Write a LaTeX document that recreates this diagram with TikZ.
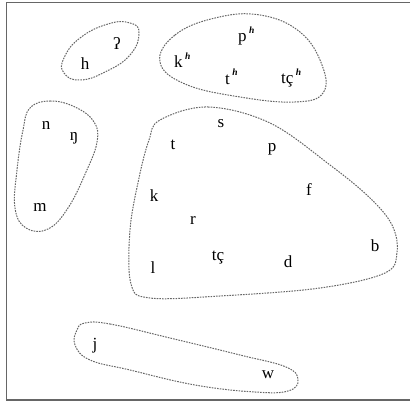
\documentclass[tikz,border=0pt]{standalone}
\usepackage{fontspec}
\setmainfont{Liberation Serif}
\begin{document}
\begin{tikzpicture}[x=1pt,y=-1pt,
  lett/.style={inner sep=0pt,font=\fontsize{17}{18}\selectfont},
  blob/.style={draw=black!60,line width=1pt,dash pattern=on 1.6pt off 1.1pt},
  frm/.style={draw=black!60,line width=1.4pt}]
\newcommand{\asp}{\kern2.5pt\raisebox{0.5em}{\fontsize{9.5}{10}\selectfont\itshape\bfseries h}}
\useasboundingbox (0,0) rectangle (410,403);
\draw[frm] (410,2.5) -- (6.5,2.5) -- (6.5,400) -- (410,400);
% letters
\node[lett] (h) at (85,64) {h};
\node[lett] (gs) at (117,43) {ʔ};
\node[lett,anchor=west] (kh) at (174,60) {k\asp};
\node[lett,anchor=west] (ph) at (238,36) {p\asp};
\node[lett,anchor=west] (th) at (225,77) {t\asp};
\node[lett,anchor=west] (tch) at (281,78) {tç\asp};
\node[lett] (n) at (46,125) {n};
\node[lett] (ng) at (74,138) {ŋ};
\node[lett] (m) at (40,207) {m};
\node[lett] (s) at (221,124) {s};
\node[lett] (t) at (173,145) {t};
\node[lett] (p) at (272,149) {p};
\node[lett] (k) at (154,196) {k};
\node[lett] (f) at (309,190) {f};
\node[lett] (r) at (193,220) {r};
\node[lett] (tc) at (218,258) {tç};
\node[lett] (d) at (288,262) {d};
\node[lett] (b) at (375,246) {b};
\node[lett] (l) at (153,268) {l};
\node[lett] (j) at (95,346) {j};
\node[lett] (w) at (268,375) {w};
% blobs
\draw[blob] plot[smooth cycle,tension=0.8] coordinates {(64,58) (80,38) (108,24) (130,23) (139,33) (130,55) (105,72) (80,80) (64,73)};
\draw[blob] plot[smooth cycle,tension=0.7] coordinates {(160,62) (175,35) (215,18) (260,15) (300,32) (322,65) (323,93) (295,102) (240,97) (185,84)};
\draw[blob] plot[smooth cycle,tension=0.7] coordinates {(30,108) (50,101) (75,107) (94,122) (97,142) (86,172) (68,208) (48,229) (26,228) (15,208) (17,170) (23,130)};
\draw[blob] plot[smooth cycle,tension=0.6] coordinates {(160,120) (208,107) (270,123) (330,165) (370,198) (392,225) (397,252) (385,273) (320,288) (220,296) (150,298) (131,284) (130,230) (139,178) (149,140)};
\draw[blob] plot[smooth cycle,tension=0.7] coordinates {(85,323) (110,324) (170,338) (240,355) (286,367) (298,380) (288,391) (255,392) (195,385) (130,370) (90,360) (75,345) (77,330)};
\end{tikzpicture}
\end{document}
